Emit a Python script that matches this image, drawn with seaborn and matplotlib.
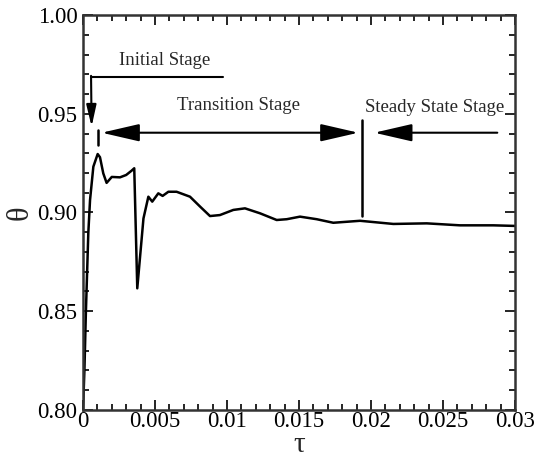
import matplotlib
matplotlib.use('Agg')
import matplotlib.pyplot as plt
from matplotlib.ticker import MultipleLocator, FormatStrFormatter, FuncFormatter
import pandas as pd
import seaborn as sns

# curve
tau = [0.0, 0.0001, 0.0002, 0.00037, 0.00049, 0.00072, 0.00102, 0.00118, 0.00141,
       0.00164, 0.0020, 0.00257, 0.0030, 0.00338, 0.00356, 0.00377, 0.0042, 0.00454,
       0.00481, 0.00523, 0.00553, 0.00593, 0.0065, 0.00743, 0.00813, 0.00882, 0.00951,
       0.01044, 0.01125, 0.01229, 0.01345, 0.01415, 0.01507, 0.01623, 0.01738, 0.01924,
       0.02155, 0.02387, 0.02618, 0.0285, 0.03]
theta = [0.80, 0.82, 0.849, 0.8896, 0.9063, 0.9232, 0.9296, 0.928, 0.9198,
         0.915, 0.918, 0.9178, 0.919, 0.9212, 0.9224, 0.8616, 0.897, 0.908,
         0.9055, 0.9097, 0.9084, 0.9105, 0.9105, 0.908, 0.903, 0.8982, 0.8987,
         0.9013, 0.9021, 0.8996, 0.8962, 0.8966, 0.8979, 0.8966, 0.8948, 0.8958,
         0.8942, 0.8945, 0.8935, 0.8935, 0.8932]

stage_labels = ['Initial Stage', 'Transition Stage', 'Steady State Stage']
stage_bounds = [0.00102, 0.0194]


def main():
    sns.set_style("ticks")
    plt.rcParams['font.family'] = ['Liberation Serif', 'DejaVu Serif']

    fig = plt.figure(figsize=(5.42, 4.59), dpi=100)
    ax = fig.add_axes([0.1531, 0.1068, 0.7971, 0.8605])

    df = pd.DataFrame({'tau': tau, 'theta': theta})
    sns.lineplot(data=df, x='tau', y='theta', ax=ax, color='black', lw=1.8,
                 sort=False, estimator=None)

    ax.set_xlim(0, 0.03)
    ax.set_ylim(0.80, 1.00)
    ax.xaxis.set_major_locator(MultipleLocator(0.005))
    ax.xaxis.set_minor_locator(MultipleLocator(0.001))
    ax.yaxis.set_major_locator(MultipleLocator(0.05))
    ax.yaxis.set_minor_locator(MultipleLocator(0.01))
    ax.xaxis.set_major_formatter(FuncFormatter(lambda v, p: '%g' % round(v, 4)))
    ax.yaxis.set_major_formatter(FormatStrFormatter('%.2f'))
    ax.tick_params(which='both', direction='in', top=True, right=True,
                   labelsize=16.5, width=1.2, colors='black')
    ax.tick_params(axis='x', pad=1)
    ax.tick_params(axis='y', pad=4)
    ax.tick_params(which='major', length=7)
    ax.tick_params(which='minor', length=4)
    for s in ax.spines.values():
        s.set_linewidth(1.8)
        s.set_color('#333333')

    ax.set_xlabel('τ', fontsize=21, labelpad=0)
    ax.set_ylabel('θ', fontsize=22, labelpad=2)

    # stage annotations
    lc = 'black'
    ahead = '-|>,head_length=1.3,head_width=0.3'
    dhead = '<|-|>,head_length=1.3,head_width=0.3'
    ax.text(0.0057, 0.977, stage_labels[0], fontsize=13.5, ha='center', va='center')
    ax.plot([0.0097, 0.00056], [0.9688, 0.9688], color=lc, lw=1.5)
    ax.annotate('', xy=(0.0006, 0.9435), xytext=(0.00056, 0.9692),
                arrowprops=dict(arrowstyle=ahead, color=lc, lw=1.5, mutation_scale=10,
                                shrinkA=0, shrinkB=0))
    ax.plot([stage_bounds[0], stage_bounds[0]], [0.9342, 0.9418], color=lc, lw=1.8)

    ax.text(0.0108, 0.954, stage_labels[1], fontsize=13.5, ha='center', va='center')
    ax.annotate('', xy=(0.01912, 0.9404), xytext=(0.0013, 0.9404),
                arrowprops=dict(arrowstyle=dhead, color=lc, lw=1.5, mutation_scale=18,
                                shrinkA=0, shrinkB=0))
    ax.plot([stage_bounds[1], stage_bounds[1]], [0.898, 0.9468], color=lc, lw=1.8)

    ax.text(0.02444, 0.9533, stage_labels[2], fontsize=13.5, ha='center', va='center')
    ax.annotate('', xy=(0.02023, 0.9404), xytext=(0.02877, 0.9404),
                arrowprops=dict(arrowstyle=ahead, color=lc, lw=1.5, mutation_scale=18,
                                shrinkA=0, shrinkB=0))

    fig.savefig('out.png', dpi=100)


if __name__ == '__main__':
    main()
